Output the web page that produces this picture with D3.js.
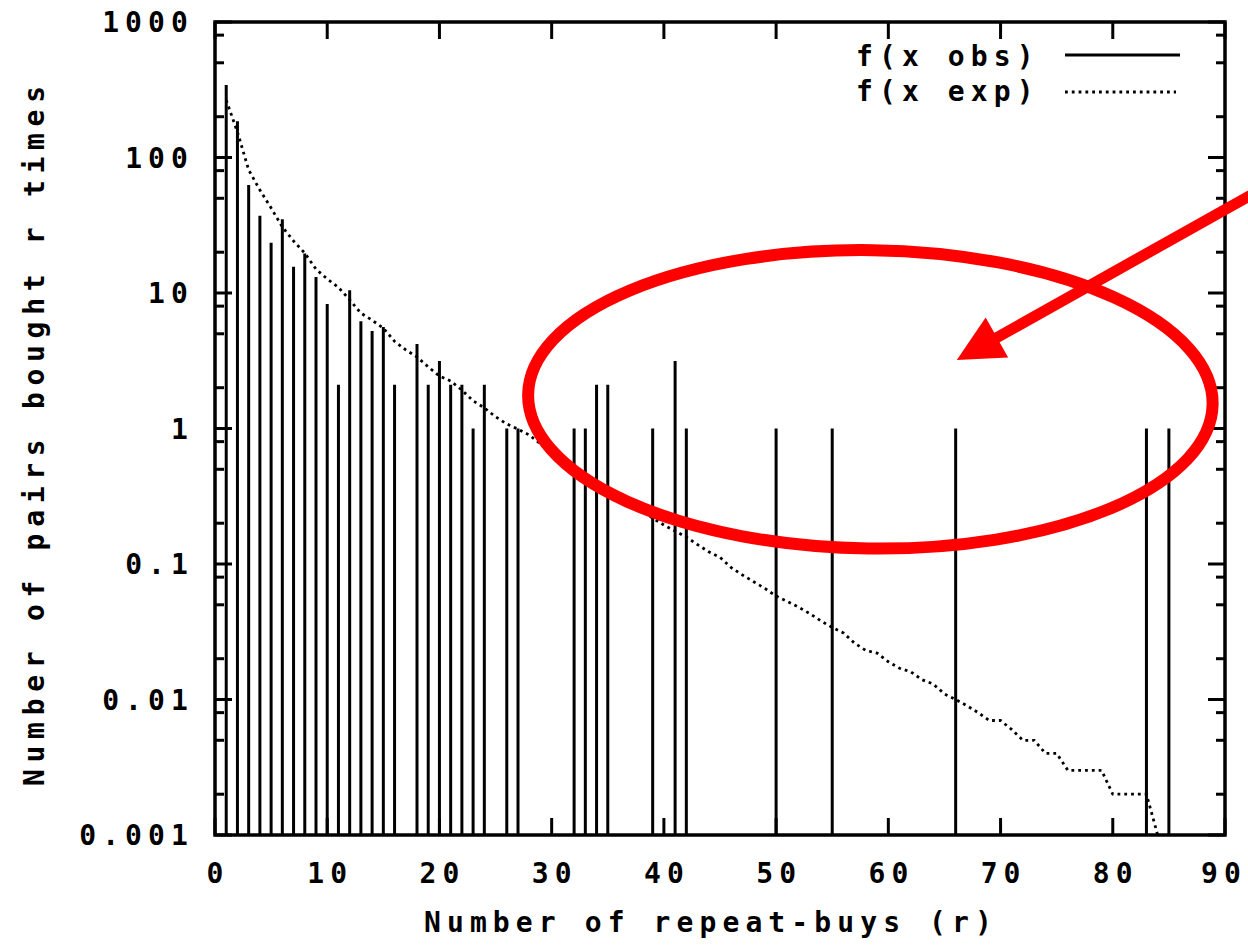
<!DOCTYPE html>
<html><head><meta charset="utf-8">
<script src="https://cdn.jsdelivr.net/npm/d3@7"></script>
<style>body{margin:0;background:#fff}svg{display:block}</style>
</head><body>
<svg id="c" width="1248" height="946"></svg>
<script>
// ---- data ----
const obsR   = [1,2,3,4,5,6,7,8,9,10,11,12,13,14,15,16,18,19,20,21,22,23,24,26,27,32,33,34,35,39,41,42,50,55,66,83,85];
const obsVal = [343,185,62.7,37.2,23.5,35,15.6,19.6,13.1,8.3,2.1,10.5,6.2,5.25,5.6,2.1,4.2,2.1,3.15,2.1,2.1,1,2.1,1,1,1,1,2.1,2.1,1,3.15,1,1,1,1,1,1];
const expR   = [1,2,3,4,5,6,7,8,9,10,11,12,13,14,15,16,17,18,19,20,21,22,23,24,25,26,27,28,29,30,31,32,33,34,35,36,37,38,39,40,41,42,43,44,45,46,47,48,49,50,51,52,53,54,55,56,57,58,59,60,61,62,63,64,65,66,67,68,69,70,71,72,73,74,75,76,77,78,79,80,81,82,83,84];
const expVal = [265,154,81,57.5,42.4,30.7,24.2,19.7,15,12.7,11,8.9,7.1,6.3,5.5,4.4,3.8,3.37,2.85,2.44,2.24,1.92,1.6,1.42,1.22,1.08,0.99,0.895,0.77,0.66,0.586,0.52,0.454,0.393,0.352,0.312,0.287,0.25,0.218,0.194,0.175,0.158,0.139,0.123,0.112,0.094,0.083,0.074,0.066,0.058,0.053,0.048,0.043,0.038,0.034,0.031,0.026,0.023,0.022,0.019,0.017,0.016,0.014,0.013,0.011,0.010,0.009,0.008,0.007,0.007,0.006,0.005,0.005,0.004,0.004,0.003,0.003,0.003,0.003,0.002,0.002,0.002,0.002,0.001];
const xTicks = [0,10,20,30,40,50,60,70,80,90];
const yTicks = [1000,100,10,1,0.1,0.01,0.001];
const yTickLabels = ["1000","100","10","1","0.1","0.01","0.001"];
const yMinorMult = [2,5,8];
const legendLabels = ["f(x obs)","f(x exp)"];
const xTitle = "Number of repeat-buys (r)";
const yTitle = "Number of pairs bought r times";
// annotation (data coordinates)
const ellipseBox = {r0:27.9, r1:88.9, vTop:20.7, vBottom:0.13};
const arrowFrom = {r:93.5, v:60};
const arrowTo   = {r:66.1, v:3.2};

// ---- layout ----
const L=215, R=1225, T=22, B=835;
const FONT = "'DejaVu Sans Mono', 'Liberation Mono', monospace";
const FS = 28, LS = 6.1;
const svg = d3.select("#c");
const x = d3.scaleLinear().domain([0,90]).range([L,R]);
const y = d3.scaleLog().domain([0.001,1000]).range([B,T]);

svg.append("defs").append("clipPath").attr("id","pc")
  .append("rect").attr("x",L).attr("y",T).attr("width",R-L).attr("height",B-T);

// bars (impulses)
svg.append("g").selectAll("line").data(obsR).join("line")
  .attr("x1",(d)=>x(d)).attr("x2",(d)=>x(d))
  .attr("y1",(d,i)=>y(obsVal[i])).attr("y2",y(0.001))
  .attr("stroke","#000").attr("stroke-width",3);

// expected dotted curve
const line = d3.line().x(d=>x(d[0])).y(d=>y(d[1]));
svg.append("path").datum(expR.map((r,i)=>[r,expVal[i]]))
  .attr("d",line).attr("fill","none").attr("stroke","#000")
  .attr("stroke-width",2.8).attr("stroke-dasharray","2.8,4")
  .attr("clip-path","url(#pc)");

// ticks
const tk = svg.append("g").attr("stroke","#000").attr("stroke-width",3);
const MAJ=17, MIN=9;
yTicks.forEach(v=>{
  tk.append("line").attr("x1",L).attr("x2",L+MAJ).attr("y1",y(v)).attr("y2",y(v));
  tk.append("line").attr("x1",R).attr("x2",R-MAJ).attr("y1",y(v)).attr("y2",y(v));
  if (v<1000) yMinorMult.forEach(m=>{
    const vv=v*m;
    tk.append("line").attr("x1",L).attr("x2",L+MIN).attr("y1",y(vv)).attr("y2",y(vv));
    tk.append("line").attr("x1",R).attr("x2",R-MIN).attr("y1",y(vv)).attr("y2",y(vv));
  });
});
xTicks.forEach(v=>{
  tk.append("line").attr("x1",x(v)).attr("x2",x(v)).attr("y1",B).attr("y2",B-MAJ);
  tk.append("line").attr("x1",x(v)).attr("x2",x(v)).attr("y1",T).attr("y2",T+MAJ);
});

// frame
svg.append("rect").attr("x",L).attr("y",T).attr("width",R-L).attr("height",B-T)
  .attr("fill","none").attr("stroke","#000").attr("stroke-width",3.5);

// tick labels
const txt = (s,ls)=>s.attr("font-family",FONT).attr("font-size",FS).attr("font-weight","bold")
  .attr("letter-spacing",ls==null?LS:ls).attr("fill","#000");
yTicks.forEach((v,i)=>{
  txt(svg.append("text")).attr("x",194).attr("y",y(v)+10).attr("text-anchor","end").text(yTickLabels[i]);
});
xTicks.forEach(v=>{
  txt(svg.append("text")).attr("x",Math.min(x(v)+LS/2,1224)).attr("y",883).attr("text-anchor","middle").text(String(v));
});

// axis titles
txt(svg.append("text")).attr("x",424).attr("y",932).text(xTitle);
txt(svg.append("text"),6.7).attr("transform","translate(44,786) rotate(-90)").text(yTitle);

// legend
const lg = svg.append("g");
txt(lg.append("text")).attr("x",856).attr("y",66).text(legendLabels[0]);
txt(lg.append("text")).attr("x",856).attr("y",101).text(legendLabels[1]);
lg.append("line").attr("x1",1065).attr("x2",1180).attr("y1",55).attr("y2",55)
  .attr("stroke","#000").attr("stroke-width",3);
lg.append("line").attr("x1",1065).attr("x2",1176).attr("y1",92).attr("y2",92)
  .attr("stroke","#000").attr("stroke-width",2.8).attr("stroke-dasharray","2.8,4");

// red annotation
const ex0=x(ellipseBox.r0), ex1=x(ellipseBox.r1), ey0=y(ellipseBox.vTop), ey1=y(ellipseBox.vBottom);
const ecx=(ex0+ex1)/2, ecy=(ey0+ey1)/2;
svg.append("ellipse").attr("cx",ecx).attr("cy",ecy)
  .attr("rx",(ex1-ex0)/2).attr("ry",(ey1-ey0)/2)
  .attr("transform",`rotate(0.8,${ecx},${ecy})`)
  .attr("fill","none").attr("stroke","#ff0000").attr("stroke-width",12);
const tx=x(arrowTo.r), ty=y(arrowTo.v), fx=x(arrowFrom.r), fy=y(arrowFrom.v);
const len=Math.hypot(fx-tx,fy-ty), ux=(fx-tx)/len, uy=(fy-ty)/len;
const HL=46, HW=23;
const bx=tx+ux*HL, by=ty+uy*HL;
svg.append("line").attr("x1",fx).attr("y1",fy).attr("x2",bx-ux*4).attr("y2",by-uy*4)
  .attr("stroke","#ff0000").attr("stroke-width",11);
svg.append("path")
  .attr("d",`M${tx},${ty}L${bx-uy*HW},${by+ux*HW}L${bx+uy*HW},${by-ux*HW}Z`)
  .attr("fill","#ff0000");
</script>
</body></html>
